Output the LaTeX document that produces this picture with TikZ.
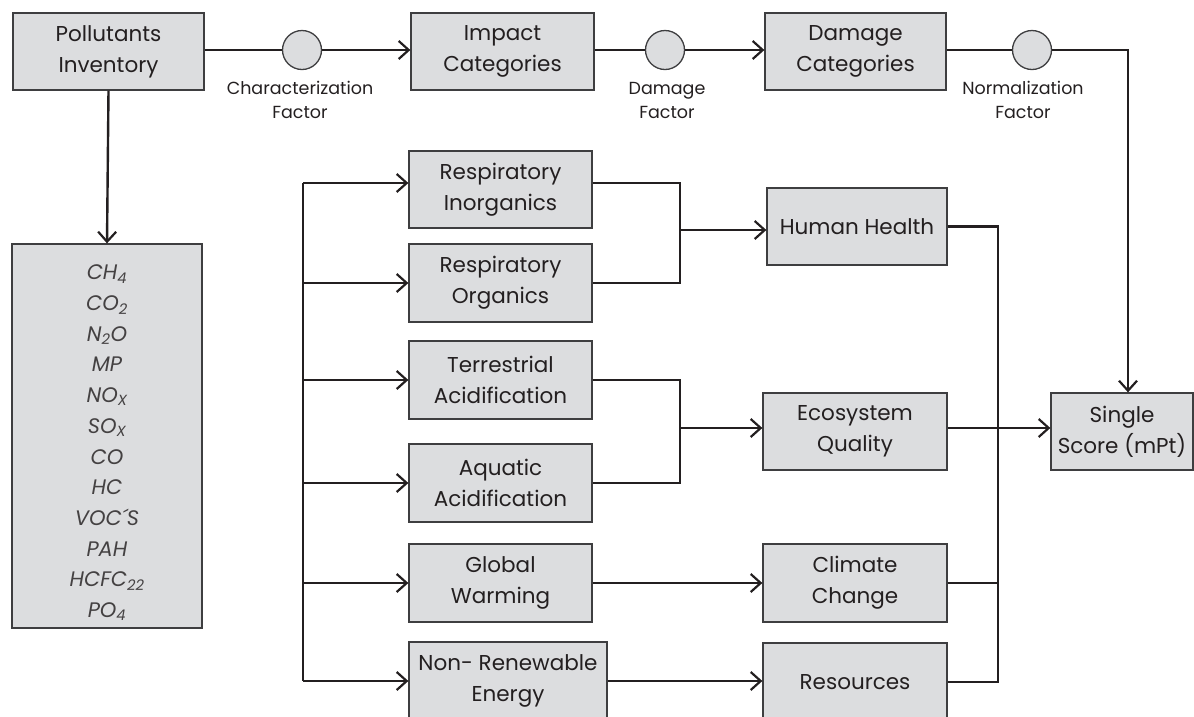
\documentclass[tikz,border=0pt]{standalone}
\usepackage{fontspec}
\setmainfont{Poppins}
\usetikzlibrary{arrows.meta,calc}
\definecolor{boxfill}{RGB}{220,221,223}
\definecolor{boxline}{RGB}{62,62,64}
\definecolor{ink}{RGB}{35,31,32}
\begin{document}
\begin{tikzpicture}[x=1pt,y=-1pt,
  box/.style={draw=boxline, line width=1.3pt, fill=boxfill, align=center, inner sep=0pt,
    font=\fontsize{21.5}{31}\selectfont, text=ink},
  circ/.style={circle, draw=boxline, line width=1.3pt, fill=boxfill, minimum size=39pt, inner sep=0pt},
  lab/.style={align=center, font=\fontsize{17.5}{24}\selectfont, text=ink},
  listtext/.style={align=center, font=\fontsize{21}{30.7}\selectfont\itshape, text=ink!85},
  conn/.style={draw=ink, line width=2.4pt},
  arr/.style={conn, -{Straight Barb[length=10pt,width=18pt,line width=2.2pt]}},
]
\useasboundingbox (0,0) rectangle (1194,716);
\clip (0,0) rectangle (1194,716);

% top row
\node[box, minimum width=191pt, minimum height=77pt] (pi) at (108.5,51.5) {Pollutants\\Inventory};
\node[box, minimum width=183pt, minimum height=77pt] (ic) at (502.5,51.5) {Impact\\Categories};
\node[box, minimum width=181pt, minimum height=77pt] (dc) at (855.5,51.5) {Damage\\Categories};
\node[circ] (c1) at (302,50) {};
\node[circ] (c2) at (665,50) {};
\node[circ] (c3) at (1032,50) {};
\node[lab] (l1) at (300,100) {Characterization\\Factor};
\node[lab] (l2) at (667,100) {Damage\\Factor};
\node[lab] (l3) at (1023,100) {Normalization\\Factor};

% pollutant list
\node[box, minimum width=190pt, minimum height=384pt] (list) at (107,436) {};
\node[listtext] (listtxt) at (107,443) {CH\textsubscript{4}\\CO\textsubscript{2}\\N\textsubscript{2}O\\MP\\NO\textsubscript{X}\\SO\textsubscript{X}\\CO\\HC\\VOC´S\\PAH\\HCFC\textsubscript{22}\\PO\textsubscript{4}};

% impact categories
\node[box, minimum width=183pt, minimum height=77pt] (ri) at (500.5,189.5) {Respiratory\\Inorganics};
\node[box, minimum width=183pt, minimum height=78pt] (ro) at (500.5,283) {Respiratory\\Organics};
\node[box, minimum width=183pt, minimum height=78pt] (ta) at (500.5,380) {Terrestrial\\Acidification};
\node[box, minimum width=183pt, minimum height=78pt] (aa) at (500.5,483) {Aquatic\\Acidification};
\node[box, minimum width=183pt, minimum height=78pt] (gw) at (500.5,583) {Global\\Warming};
\node[box, minimum width=198pt, minimum height=78pt] (nre) at (508,681) {Non- Renewable\\Energy};

% damage categories
\node[box, minimum width=180pt, minimum height=77pt] (hh) at (857,226.5) {Human Health};
\node[box, minimum width=184pt, minimum height=77pt] (eq) at (855,431.5) {Ecosystem\\Quality};
\node[box, minimum width=184pt, minimum height=78pt] (cc) at (855,583) {Climate\\Change};
\node[box, minimum width=184pt, minimum height=78pt] (rs) at (855,682) {Resources};
\node[box, minimum width=142pt, minimum height=77pt] (ss) at (1122,431.5) {Single\\Score (mPt)};

% helper coordinates
\coordinate (b1) at (303,183);
\coordinate (j1) at (680,230);
\coordinate (j2) at (680,428);
\coordinate (rb) at (998,428);
\coordinate (tc) at (1128,50);

% top connectors
\draw[conn] (pi.east |- c1) -- (c1.west);
\draw[arr] (c1.east) -- (ic.west |- c1);
\draw[conn] (ic.east |- c2) -- (c2.west);
\draw[arr] (c2.east) -- (dc.west |- c2);
\draw[conn] (dc.east |- c3) -- (c3.west);
\draw[arr] (c3.east) -- (tc) -- (tc |- ss.north);
\draw[arr] (pi.south) -- (list.north);

% bus to impact categories
\draw[conn] (b1) -- (b1 |- nre.west);
\draw[arr] (b1) -- (ri.west |- b1);
\draw[arr] (b1 |- ro.west) -- (ro.west);
\draw[arr] (b1 |- ta.west) -- (ta.west);
\draw[arr] (b1 |- aa.west) -- (aa.west);
\draw[arr] (b1 |- gw.west) -- (gw.west);
\draw[arr] (b1 |- nre.west) -- (nre.west);

% impact to damage
\draw[conn] (ri.east |- b1) -| (j1 |- ro.east) -- (ro.east);
\draw[arr] (j1) -- (hh.west |- j1);
\draw[conn] (ta.east) -| (j2 |- aa.east) -- (aa.east);
\draw[arr] (j2) -- (eq.west |- j2);
\draw[arr] (gw.east) -- (cc.west);
\draw[arr] (nre.east) -- (rs.west |- nre.east);

% damage to single score
\draw[conn] (hh.east) -| (rb |- rs.east) -- (rs.east);
\draw[conn] (cc.east) -- (rb |- cc.east);
\draw[arr] (eq.east |- j2) -- (ss.west |- j2);
\end{tikzpicture}
\end{document}
